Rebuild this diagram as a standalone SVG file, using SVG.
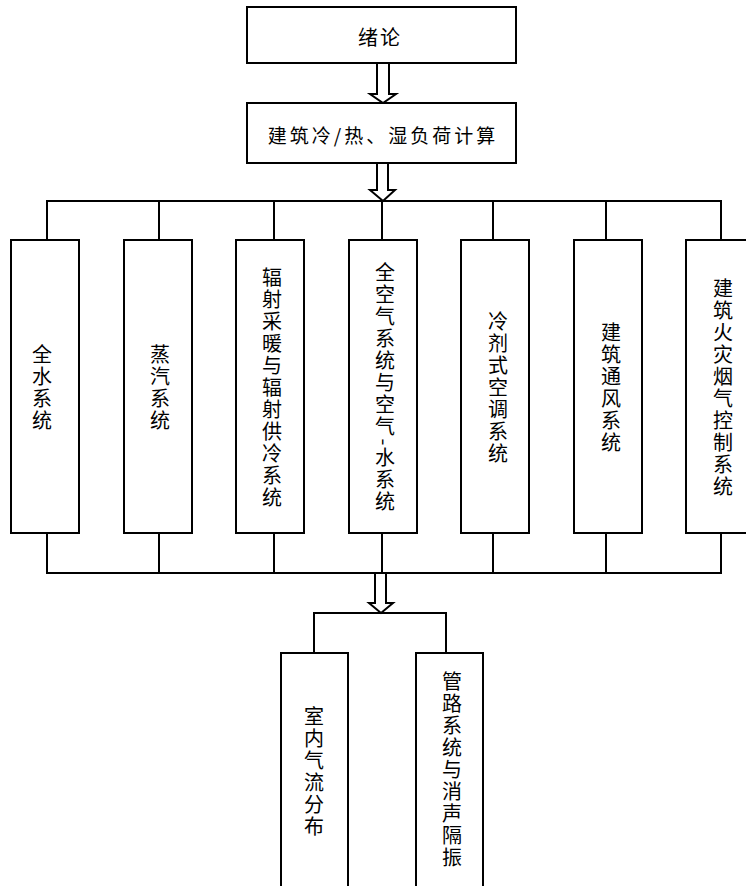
<svg xmlns="http://www.w3.org/2000/svg" width="746" height="886" viewBox="0 0 746 886">
<style>
.box{fill:#fff;stroke:#000;stroke-width:2}
.ln{fill:none;stroke:#000;stroke-width:2}
.arr{fill:#fff;stroke:#000;stroke-width:2;stroke-linejoin:miter}
text{font-family:"Noto Sans CJK SC","Noto Sans CJK JP",sans-serif;font-size:20px;fill:#000}
.h{text-anchor:middle;dominant-baseline:central}
.v{writing-mode:vertical-rl;text-anchor:middle;letter-spacing:2px}
.sw{text-orientation:sideways}
</style>
<rect width="746" height="886" fill="#fff"/>
<g id="connectors">
<polyline class="ln" points="47,240 47,201 721,201 721,240"/>
<line class="ln" x1="159" y1="201" x2="159" y2="240"/>
<line class="ln" x1="274" y1="201" x2="274" y2="240"/>
<line class="ln" x1="382" y1="201" x2="382" y2="240"/>
<line class="ln" x1="493" y1="201" x2="493" y2="240"/>
<line class="ln" x1="606" y1="201" x2="606" y2="240"/>
<polyline class="ln" points="47,533 47,573 721,573 721,533"/>
<line class="ln" x1="159" y1="533" x2="159" y2="573"/>
<line class="ln" x1="274" y1="533" x2="274" y2="573"/>
<line class="ln" x1="382" y1="533" x2="382" y2="573"/>
<line class="ln" x1="493" y1="533" x2="493" y2="573"/>
<line class="ln" x1="606" y1="533" x2="606" y2="573"/>
<polyline class="ln" points="314,653 314,613 446,613 446,653"/>
<polygon class="arr" points="377,63 377,94 370,94 383,103 396,94 389,94 389,63"/>
<polygon class="arr" points="377,163 377,190 370,190 383,201 395,190 388,190 388,163"/>
<polygon class="arr" points="375,573 375,603 369,603 381,613 393,603 386,603 386,573"/>
</g>
<g id="n-intro"><rect class="box" x="247" y="7" width="269" height="56"/><text class="h" x="380" y="36" style="letter-spacing:2px">绪论</text></g>
<g id="n-load"><rect class="box" x="247" y="103" width="269" height="60"/><text class="h" x="383" y="134" style="font-size:19px;letter-spacing:3px">建筑冷/热、湿负荷计算</text></g>
<g id="n-water"><rect class="box" x="11" y="240" width="68" height="293"/><text class="v" x="42" y="388">全水系统</text></g>
<g id="n-steam"><rect class="box" x="124" y="240" width="68" height="293"/><text class="v" x="160" y="388">蒸汽系统</text></g>
<g id="n-radiant"><rect class="box" x="236" y="240" width="68" height="293"/><text class="v" x="272" y="388">辐射采暖与辐射供冷系统</text></g>
<g id="n-air"><rect class="box" x="349" y="240" width="68" height="293"/><text class="v" x="385" y="388">全空气系统与空气<tspan class="sw">-</tspan>水系统</text></g>
<g id="n-refrig"><rect class="box" x="461" y="240" width="68" height="293"/><text class="v" x="498" y="388">冷剂式空调系统</text></g>
<g id="n-vent"><rect class="box" x="574" y="240" width="68" height="293"/><text class="v" x="611" y="388">建筑通风系统</text></g>
<g id="n-fire"><rect class="box" x="686" y="240" width="70" height="293"/><text class="v" x="723" y="388">建筑火灾烟气控制系统</text></g>
<g id="n-airflow"><rect class="box" x="281" y="653" width="67" height="240"/><text class="v" x="314" y="772">室内气流分布</text></g>
<g id="n-duct"><rect class="box" x="416" y="653" width="67" height="240"/><text class="v" x="452" y="770">管路系统与消声隔振</text></g>
</svg>
